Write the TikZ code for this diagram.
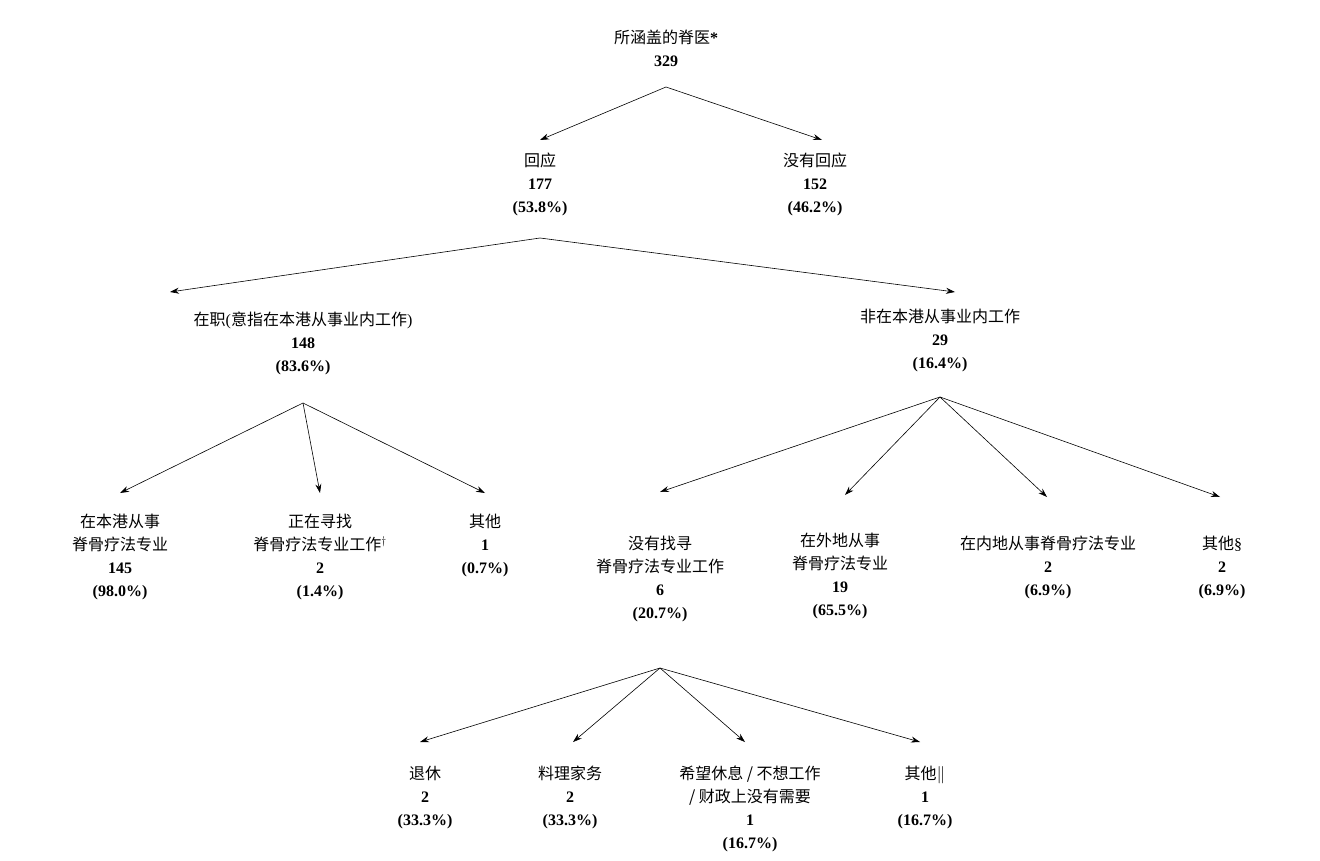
\documentclass[tikz,border=0pt]{standalone}
\usepackage{fontspec}
\setmainfont{Liberation Serif}
\newfontfamily\cjk{Noto Sans CJK SC}
\usetikzlibrary{arrows.meta}
\begin{document}
\begin{tikzpicture}[x=1pt,y=-1pt,
  lab/.style={anchor=north,align=center,inner sep=0pt,font=\fontsize{16}{23}\selectfont},
  arr/.style={-{Stealth[length=9pt,width=6pt]},line width=0.6pt}]
\useasboundingbox (0,0) rectangle (1320,861);
\newcommand{\zh}[1]{{\cjk #1}}
\newcommand{\bn}[1]{\textbf{#1}}
\node[lab] (root) at (666,30) {\zh{所涵盖的脊医}\bn{*}\\\bn{329}};
\node[lab] (resp) at (540,153) {\zh{回应}\\\bn{177}\\\bn{(53.8\%)}};
\node[lab] (noresp) at (815,153) {\zh{没有回应}\\\bn{152}\\\bn{(46.2\%)}};
\node[lab] (work) at (303,312) {\zh{在职}(\zh{意指在本港从事业内工作})\\\bn{148}\\\bn{(83.6\%)}};
\node[lab] (nowork) at (940,309) {\zh{非在本港从事业内工作}\\\bn{29}\\\bn{(16.4\%)}};
\node[lab] (hk) at (120,514) {\zh{在本港从事}\\\zh{脊骨疗法专业}\\\bn{145}\\\bn{(98.0\%)}};
\node[lab] (seek) at (320,514) {\zh{正在寻找}\\\zh{脊骨疗法专业工作}$^{\dagger}$\\\bn{2}\\\bn{(1.4\%)}};
\node[lab] (oth1) at (485,514) {\zh{其他}\\\bn{1}\\\bn{(0.7\%)}};
\node[lab] (noseek) at (660,536) {\zh{没有找寻}\\\zh{脊骨疗法专业工作}\\\bn{6}\\\bn{(20.7\%)}};
\node[lab] (abroad) at (840,533) {\zh{在外地从事}\\\zh{脊骨疗法专业}\\\bn{19}\\\bn{(65.5\%)}};
\node[lab] (main) at (1048,536) {\zh{在内地从事脊骨疗法专业}\\\bn{2}\\\bn{(6.9\%)}};
\node[lab] (oth2) at (1222,536) {\zh{其他}\S\\\bn{2}\\\bn{(6.9\%)}};
\node[lab] (ret) at (425,766) {\zh{退休}\\\bn{2}\\\bn{(33.3\%)}};
\node[lab] (home) at (570,766) {\zh{料理家务}\\\bn{2}\\\bn{(33.3\%)}};
\node[lab] (rest) at (750,766) {\zh{希望休息 / 不想工作}\\\zh{/ 财政上没有需要}\\\bn{1}\\\bn{(16.7\%)}};
\node[lab] (oth3) at (925,766) {\zh{其他}$\|$\\\bn{1}\\\bn{(16.7\%)}};
\coordinate (s0) at (666,87);
\coordinate (s1) at (540,238);
\coordinate (s2) at (303,403);
\coordinate (s3) at (940,397);
\coordinate (s4) at (660,668);
\coordinate (t1) at (540,140); \coordinate (t2) at (822,140);
\coordinate (t3) at (170,292); \coordinate (t4) at (955,292);
\coordinate (t5) at (120,493); \coordinate (t6) at (320,493); \coordinate (t7) at (485,493);
\coordinate (t8) at (660,492); \coordinate (t9) at (845,495); \coordinate (t10) at (1047,497); \coordinate (t11) at (1220,497);
\coordinate (t12) at (420,742); \coordinate (t13) at (573,742); \coordinate (t14) at (745,742); \coordinate (t15) at (920,742);
\foreach \a/\b in {s0/t1,s0/t2,s1/t3,s1/t4,s2/t5,s2/t6,s2/t7,s3/t8,s3/t9,s3/t10,s3/t11,s4/t12,s4/t13,s4/t14,s4/t15}
  \draw[arr] (\a) -- (\b);
\end{tikzpicture}
\end{document}
